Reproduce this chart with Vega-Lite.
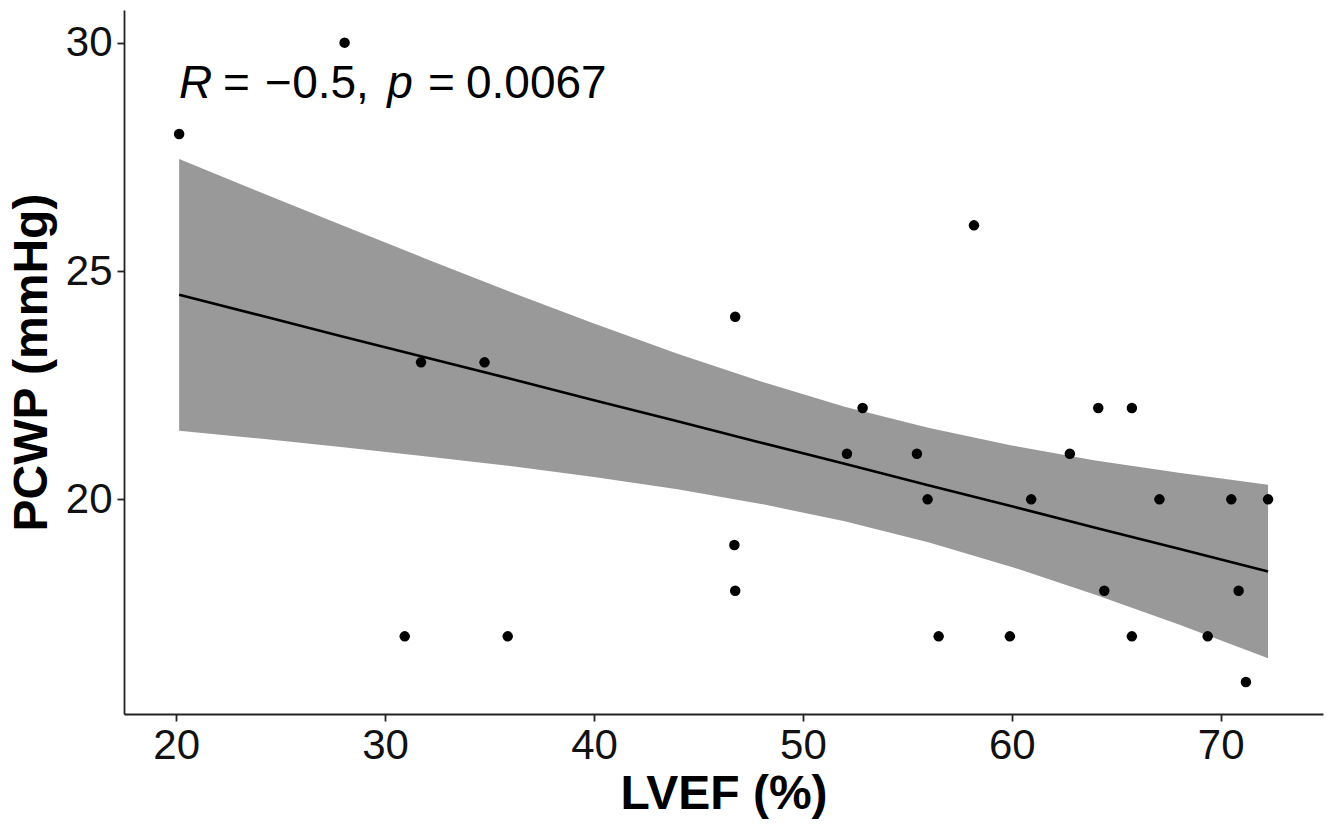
{
  "$schema": "https://vega.github.io/schema/vega-lite/v6.json",
  "autosize": {"type": "none"},
  "width": 1199,
  "height": 704,
  "padding": {"left": 124, "top": 10, "right": 8, "bottom": 116},
  "background": "white",
  "config": {
    "view": {"stroke": null},
    "font": "Liberation Sans",
    "axis": {
      "grid": false,
      "domainColor": "#222222",
      "domainWidth": 1.8,
      "tickColor": "#222222",
      "tickWidth": 1.8,
      "tickSize": 7,
      "labelFont": "Liberation Sans",
      "labelFontSize": 42,
      "labelColor": "#111111",
      "titleFont": "Liberation Sans",
      "titleFontSize": 48,
      "titleFontWeight": "bold",
      "titleColor": "#000000"
    }
  },
  "datasets": {
    "points": [
      {"LVEF": 20.14, "PCWP": 28},
      {"LVEF": 28.06, "PCWP": 30},
      {"LVEF": 31.72, "PCWP": 23},
      {"LVEF": 34.76, "PCWP": 23},
      {"LVEF": 30.94, "PCWP": 17},
      {"LVEF": 35.87, "PCWP": 17},
      {"LVEF": 46.76, "PCWP": 24},
      {"LVEF": 46.72, "PCWP": 19},
      {"LVEF": 46.76, "PCWP": 18},
      {"LVEF": 52.11, "PCWP": 21},
      {"LVEF": 52.86, "PCWP": 22},
      {"LVEF": 55.46, "PCWP": 21},
      {"LVEF": 55.97, "PCWP": 20},
      {"LVEF": 56.5, "PCWP": 17},
      {"LVEF": 58.19, "PCWP": 26},
      {"LVEF": 59.91, "PCWP": 17},
      {"LVEF": 60.93, "PCWP": 20},
      {"LVEF": 62.78, "PCWP": 21},
      {"LVEF": 64.14, "PCWP": 22},
      {"LVEF": 64.43, "PCWP": 18},
      {"LVEF": 65.75, "PCWP": 22},
      {"LVEF": 65.75, "PCWP": 17},
      {"LVEF": 67.07, "PCWP": 20},
      {"LVEF": 69.38, "PCWP": 17},
      {"LVEF": 70.51, "PCWP": 20},
      {"LVEF": 70.86, "PCWP": 18},
      {"LVEF": 71.21, "PCWP": 16},
      {"LVEF": 72.27, "PCWP": 20}
    ],
    "band": [
      {"LVEF": 20.14, "lo": 21.50, "hi": 27.45, "fit": 24.48},
      {"LVEF": 24, "lo": 21.33, "hi": 26.73, "fit": 24.03},
      {"LVEF": 28, "lo": 21.14, "hi": 25.99, "fit": 23.56},
      {"LVEF": 32, "lo": 20.94, "hi": 25.26, "fit": 23.10},
      {"LVEF": 36, "lo": 20.73, "hi": 24.54, "fit": 22.64},
      {"LVEF": 40, "lo": 20.49, "hi": 23.85, "fit": 22.17},
      {"LVEF": 44, "lo": 20.22, "hi": 23.19, "fit": 21.71},
      {"LVEF": 48, "lo": 19.90, "hi": 22.58, "fit": 21.24},
      {"LVEF": 52, "lo": 19.52, "hi": 22.03, "fit": 20.78},
      {"LVEF": 56, "lo": 19.06, "hi": 21.57, "fit": 20.31},
      {"LVEF": 60, "lo": 18.52, "hi": 21.18, "fit": 19.85},
      {"LVEF": 64, "lo": 17.91, "hi": 20.85, "fit": 19.38},
      {"LVEF": 68, "lo": 17.26, "hi": 20.58, "fit": 18.92},
      {"LVEF": 72.27, "lo": 16.52, "hi": 20.32, "fit": 18.42}
    ],
    "labelsItalic": [
      {"LVEF": 20.13, "PCWP": 28.78, "t": "R"},
      {"LVEF": 30.1, "PCWP": 28.78, "t": "p"}
    ],
    "labelsPlain": [
      {"LVEF": 22.24, "PCWP": 28.78, "t": "="},
      {"LVEF": 24.25, "PCWP": 28.78, "t": "\u2212"},
      {"LVEF": 25.55, "PCWP": 28.78, "t": "0.5,"},
      {"LVEF": 32.05, "PCWP": 28.78, "t": "="},
      {"LVEF": 33.87, "PCWP": 28.78, "t": "0.0067"}
    ]
  },
  "layer": [
    {
      "data": {"name": "band"},
      "mark": {"type": "area", "color": "#999999", "opacity": 1},
      "encoding": {
        "x": {"field": "LVEF", "type": "quantitative", "scale": {"domain": [17.5, 74.9], "nice": false, "zero": false},
              "axis": {"values": [20, 30, 40, 50, 60, 70], "title": "LVEF (%)", "labelPadding": 4, "titlePadding": 4}},
        "y": {"field": "lo", "type": "quantitative", "scale": {"domain": [15.3, 30.715], "nice": false, "zero": false},
              "axis": {"values": [20, 25, 30], "title": "PCWP (mmHg)", "labelPadding": 5, "titlePadding": 9}},
        "y2": {"field": "hi"}
      }
    },
    {
      "data": {"name": "band"},
      "mark": {"type": "line", "color": "#000000", "strokeWidth": 2.6},
      "encoding": {
        "x": {"field": "LVEF", "type": "quantitative"},
        "y": {"field": "fit", "type": "quantitative"}
      }
    },
    {
      "data": {"name": "points"},
      "mark": {"type": "circle", "color": "#000000", "opacity": 1, "size": 110},
      "encoding": {
        "x": {"field": "LVEF", "type": "quantitative"},
        "y": {"field": "PCWP", "type": "quantitative"}
      }
    },
    {
      "data": {"name": "labelsItalic"},
      "mark": {"type": "text", "font": "Liberation Sans", "fontSize": 46, "fontStyle": "italic", "align": "left", "baseline": "alphabetic", "color": "#000000"},
      "encoding": {
        "x": {"field": "LVEF", "type": "quantitative"},
        "y": {"field": "PCWP", "type": "quantitative"},
        "text": {"field": "t"}
      }
    },
    {
      "data": {"name": "labelsPlain"},
      "mark": {"type": "text", "font": "Liberation Sans", "fontSize": 46, "align": "left", "baseline": "alphabetic", "color": "#000000"},
      "encoding": {
        "x": {"field": "LVEF", "type": "quantitative"},
        "y": {"field": "PCWP", "type": "quantitative"},
        "text": {"field": "t"}
      }
    }
  ]
}
